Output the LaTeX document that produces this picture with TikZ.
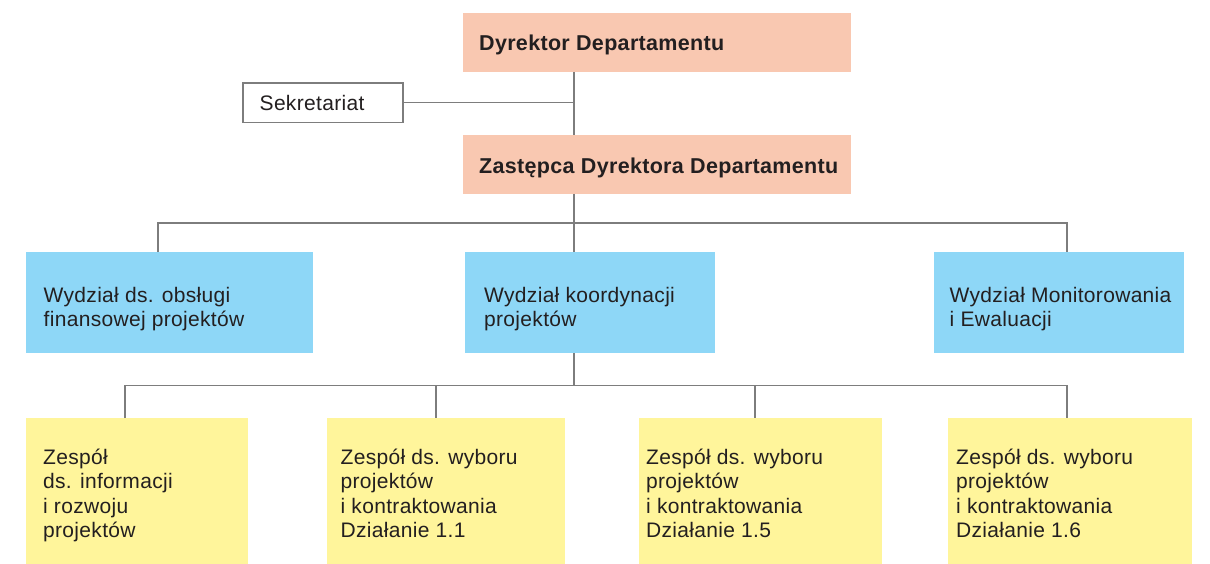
\documentclass[tikz,border=0pt]{standalone}
\usepackage{fontspec}
\setmainfont{Liberation Sans}[LetterSpace=1.5]
\definecolor{salmon}{RGB}{249,200,177}
\definecolor{skyb}{RGB}{142,215,247}
\definecolor{paleyel}{RGB}{255,245,155}
\definecolor{linegray}{RGB}{125,125,125}
\definecolor{ink}{RGB}{35,31,32}
\tikzset{
  box/.style={anchor=north west, inner sep=0pt, outer sep=0pt, minimum width=#1},
  salbox/.style={box=388pt, fill=salmon, minimum height=59pt},
  bluebox/.style={box=#1, fill=skyb, minimum height=101pt},
  yelbox/.style={box=#1, fill=paleyel, minimum height=146pt},
  txt/.style={anchor=base west, inner sep=0pt, align=left, text=ink,
    font=\fontsize{21}{24.5}\selectfont},
  btxt/.style={txt, font=\fontsize{21.5}{24.5}\selectfont\bfseries},
  conn/.style={draw=linegray, line width=1.5pt}
}
\begin{document}
\begin{tikzpicture}[x=1pt,y=-1pt]
\useasboundingbox (0,0) rectangle (1210,564);
% boxes
\node[salbox] (dyr) at (463,13) {};
\node[salbox] (zas) at (463,135) {};
\node[box=160pt, minimum height=39.5pt, fill=white, draw=linegray, line width=1.5pt] (sek) at (243,83) {};
\node[bluebox=287pt] (w1) at (26,252) {};
\node[bluebox=250pt] (w2) at (465,252) {};
\node[bluebox=250pt] (w3) at (934,252) {};
\node[yelbox=222pt] (z1) at (26,418) {};
\node[yelbox=238pt] (z2) at (327,418) {};
\node[yelbox=243pt] (z3) at (639,418) {};
\node[yelbox=244pt] (z4) at (948,418) {};
% texts (anchor at baseline of the last line)
\node[btxt] (tdyr) at (479,50.7) {Dyrektor Departamentu};
\node[btxt] (tzas) at (479,174) {Zastępca Dyrektora Departamentu};
\node[txt] (tsek) at (259.5,111) {Sekretariat};
\node[txt] (tw1) at (43.5,326.8) {Wydział ds. obsługi\\finansowej projektów};
\node[txt] (tw2) at (484,326.8) {Wydział koordynacji\\projektów};
\node[txt] (tw3) at (949.5,326.8) {Wydział Monitorowania\\i Ewaluacji};
\node[txt] (tz1) at (43,537.5) {Zespół\\ds. informacji\\i rozwoju\\projektów};
\node[txt] (tz2) at (340.5,537.5) {Zespół ds. wyboru\\projektów\\i kontraktowania\\Działanie 1.1};
\node[txt] (tz3) at (646,537.5) {Zespół ds. wyboru\\projektów\\i kontraktowania\\Działanie 1.5};
\node[txt] (tz4) at (956,537.5) {Zespół ds. wyboru\\projektów\\i kontraktowania\\Działanie 1.6};
% connector guides
\coordinate (m) at (574,0);
\coordinate (d1) at (158,0);
\coordinate (d3) at (1067,0);
\coordinate (bus1) at (0,223);
\coordinate (bus2) at (0,385.5);
\coordinate (e1) at (125,0);
\coordinate (e2) at (436,0);
\coordinate (e3) at (755,0);
\coordinate (e4) at (1067,0);
% connectors
\draw[conn] (dyr.south -| m) -- (zas.north -| m);
\draw[conn] (sek.east) -- (sek.east -| m);
\draw[conn] (zas.south -| m) -- (w2.north -| m);
\draw[conn] (w1.north -| d1) -- (bus1 -| d1) -- (bus1 -| d3) -- (w3.north -| d3);
\draw[conn] (w2.south -| m) -- (bus2 -| m);
\draw[conn] (z1.north -| e1) -- (bus2 -| e1) -- (bus2 -| e4) -- (z4.north -| e4);
\draw[conn] (bus2 -| e2) -- (z2.north -| e2);
\draw[conn] (bus2 -| e3) -- (z3.north -| e3);
\end{tikzpicture}
\end{document}
